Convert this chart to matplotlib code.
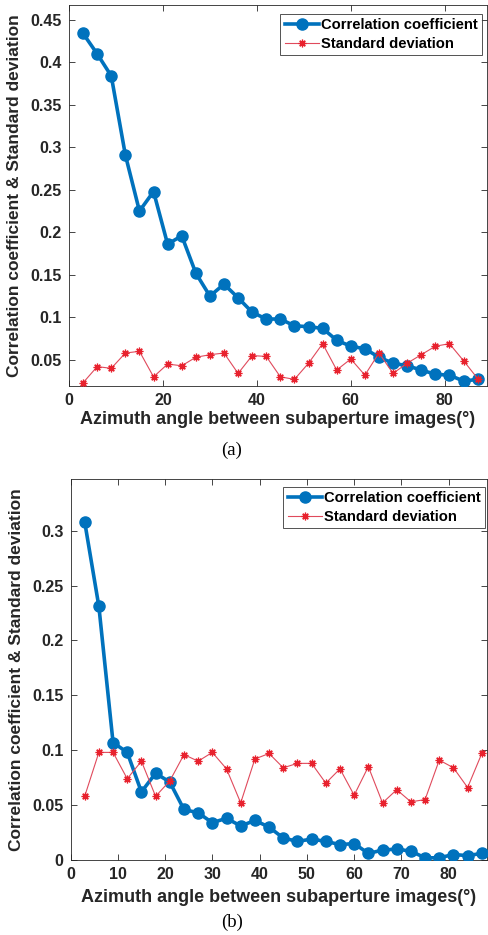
import matplotlib
matplotlib.use("Agg")
import matplotlib.pyplot as plt
from matplotlib.ticker import FuncFormatter

angles = [3, 6, 9, 12, 15, 18, 21, 24, 27, 30, 33, 36, 39, 42, 45, 48, 51, 54, 57, 60,
          63, 66, 69, 72, 75, 78, 81, 84, 87]

corr_a = [0.434, 0.410, 0.384, 0.291, 0.225, 0.248, 0.186, 0.196, 0.152, 0.125, 0.139,
          0.123, 0.106, 0.098, 0.098, 0.090, 0.089, 0.087, 0.073, 0.066, 0.063, 0.053,
          0.046, 0.043, 0.038, 0.033, 0.032, 0.025, 0.027]
std_a = [0.023, 0.042, 0.040, 0.058, 0.060, 0.030, 0.045, 0.043, 0.053, 0.056, 0.058,
         0.034, 0.055, 0.054, 0.030, 0.027, 0.046, 0.069, 0.038, 0.051, 0.032, 0.058,
         0.034, 0.046, 0.056, 0.066, 0.069, 0.049, 0.028]

corr_b = [0.308, 0.231, 0.107, 0.098, 0.062, 0.079, 0.071, 0.046, 0.043, 0.034, 0.038,
          0.031, 0.036, 0.030, 0.020, 0.017, 0.019, 0.017, 0.014, 0.015, 0.006, 0.009,
          0.010, 0.008, 0.002, 0.002, 0.005, 0.004, 0.006]
std_b = [0.058, 0.098, 0.098, 0.074, 0.090, 0.058, 0.072, 0.096, 0.090, 0.098, 0.083,
         0.052, 0.092, 0.097, 0.084, 0.088, 0.088, 0.070, 0.083, 0.059, 0.085, 0.052,
         0.064, 0.053, 0.055, 0.091, 0.084, 0.066, 0.097]

yticks_a = [0.05, 0.1, 0.15, 0.2, 0.25, 0.3, 0.35, 0.4, 0.45]
yticks_b = [0, 0.05, 0.1, 0.15, 0.2, 0.25, 0.3]
xticks_a = [0, 20, 40, 60, 80]
xticks_b = [0, 10, 20, 30, 40, 50, 60, 70, 80]

labels = ["Correlation coefficient", "Standard deviation"]
xlabel = "Azimuth angle between subaperture images(°)"
ylabel = "Correlation coefficient & Standard deviation"

W, H = 488, 935
fig = plt.figure(figsize=(W / 100, H / 100), dpi=100)
plt.rcParams['font.family'] = ['Liberation Sans', 'DejaVu Sans']

blue = "#0072BD"
red = "#E8222E"
redline = "#E04A5C"
axcol = "#262626"

def fmt(v, pos):
    s = ("%.2f" % v).rstrip("0").rstrip(".")
    return s

def make(ax_box, corr, std, xt, yt, xlim, ylim, tag, xl_y, tag_y, leg_box):
    l, t, r, b = ax_box
    ax = fig.add_axes([l / W, 1 - b / H, (r - l) / W, (b - t) / H])
    ax.plot(angles, corr, '-o', color=blue, lw=2.6, ms=8, mfc=blue, mec=blue, label=labels[0], zorder=3)
    ax.plot(angles, std, '-', marker=(8, 2, 0), color=redline, lw=0.8, ms=5.5, mec=red, mew=0.9,
            label=labels[1], zorder=4)
    ax.set_xlim(*xlim)
    ax.set_ylim(*ylim)
    ax.set_xticks(xt)
    ax.set_yticks(yt)
    ax.yaxis.set_major_formatter(FuncFormatter(fmt))
    ax.tick_params(direction='in', top=True, right=True, length=4, width=0.6,
                   colors=axcol, labelsize=11.5, pad=5)
    for lab in ax.get_xticklabels() + ax.get_yticklabels():
        lab.set_fontweight('bold')
        lab.set_color(axcol)
    for s in ax.spines.values():
        s.set_color(axcol)
        s.set_linewidth(0.6)
    ax.set_ylabel(ylabel, fontsize=12.5, fontweight='bold', color=axcol, labelpad=6)
    fig.text((l + r) / 2 / W, 1 - xl_y / H, xlabel, ha='center', va='center',
             fontsize=13, fontweight='bold', color=axcol)
    fig.text(232 / W, 1 - tag_y / H, tag, ha='center', va='center',
             fontsize=13.5, family=['Liberation Serif', 'DejaVu Serif'], color='black')
    lx0, ly0, lx1, ly1 = leg_box
    leg = ax.legend(loc='upper right', bbox_to_anchor=((lx1 - l) / (r - l), 1 - (ly0 - t) / (b - t)),
                    prop={'weight': 'bold', 'size': 10.6}, frameon=True, fancybox=False,
                    borderpad=0.3, labelspacing=0.3, handlelength=2.3, handletextpad=0.15,
                    borderaxespad=0)
    leg.get_frame().set_edgecolor(axcol)
    leg.get_frame().set_linewidth(0.7)
    for txt in leg.get_texts():
        txt.set_color('black')
    return ax

make((69, 5, 487, 386), corr_a, std_a, xticks_a, yticks_a, (0, 89), (0.0192, 0.4675), "(a)",
     420, 450, (287, 14, 482, 53))
make((70.5, 479, 487, 860), corr_b, std_b, xticks_b, yticks_b, (0, 88.1), (0, 0.347), "(b)",
     898, 922, (292, 487, 485, 524))

fig.savefig("out.png", dpi=100)
